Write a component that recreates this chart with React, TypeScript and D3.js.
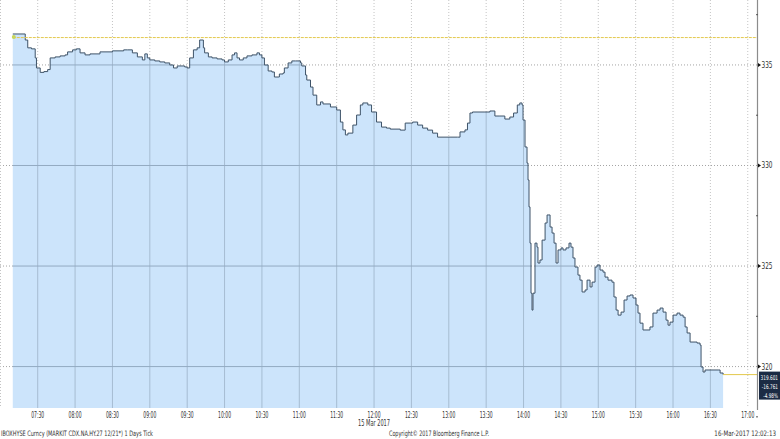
import React, {useEffect, useRef} from "react";
import * as d3 from "d3";

// tick data (time of day, price)
const times = [
    "07:10:00", "07:19:00", "07:20:00", "07:22:00", "07:25:00", "07:28:00", "07:29:00", "07:32:00", "07:35:00", "07:38:00",
    "07:40:00", "07:44:00", "07:48:00", "07:52:00", "07:54:00", "07:58:00", "08:01:00", "08:04:00", "08:08:00", "08:12:00",
    "08:20:00", "08:30:00", "08:39:00", "08:42:00", "08:46:00", "08:50:00", "08:54:00", "08:56:00", "08:58:00", "09:00:00",
    "09:04:00", "09:08:00", "09:12:00", "09:16:00", "09:19:00", "09:22:00", "09:28:00", "09:30:00", "09:32:00", "09:35:00",
    "09:38:00", "09:40:00", "09:43:00", "09:44:00", "09:47:00", "09:50:00", "09:54:00", "09:58:00", "10:00:00", "10:03:00",
    "10:06:00", "10:08:00", "10:10:00", "10:12:00", "10:15:00", "10:18:00", "10:22:00", "10:26:00", "10:28:00", "10:30:00",
    "10:32:00", "10:35:00", "10:38:00", "10:40:00", "10:43:00", "10:44:00", "10:47:00", "10:48:00", "10:51:00", "10:54:00",
    "10:57:00", "11:01:00", "11:02:00", "11:05:00", "11:06:00", "11:09:00", "11:11:00", "11:14:00", "11:17:00", "11:19:00",
    "11:25:00", "11:30:00", "11:33:00", "11:35:00", "11:37:00", "11:39:00", "11:43:00", "11:46:00", "11:49:00", "11:51:00",
    "11:55:00", "11:58:00", "12:02:00", "12:06:00", "12:10:00", "12:13:00", "12:21:00", "12:25:00", "12:29:00", "12:31:00",
    "12:35:00", "12:39:00", "12:43:00", "12:47:00", "12:51:00", "13:01:00", "13:07:00", "13:09:00", "13:13:00", "13:15:00",
    "13:17:00", "13:19:00", "13:29:00", "13:33:00", "13:37:00", "13:41:00", "13:45:00", "13:49:00", "13:52:00", "13:55:00",
    "13:57:00", "13:58:48", "13:59:36", "14:01:12", "14:02:48", "14:03:36", "14:04:24", "14:05:12", "14:06:00", "14:06:48",
    "14:07:36", "14:09:12", "14:10:48", "14:11:36", "14:13:12", "14:14:54", "14:17:18", "14:18:54", "14:19:42", "14:21:18",
    "14:22:54", "14:24:30", "14:26:06", "14:27:42", "14:30:06", "14:31:42", "14:34:06", "14:36:30", "14:38:06", "14:39:42",
    "14:41:18", "14:43:42", "14:45:18", "14:47:00", "14:49:24", "14:51:00", "14:53:24", "14:55:00", "14:57:24", "14:59:00",
    "15:01:24", "15:03:48", "15:05:24", "15:07:48", "15:11:00", "15:12:36", "15:14:18", "15:15:54", "15:18:18", "15:20:42",
    "15:23:06", "15:25:30", "15:27:54", "15:30:18", "15:31:54", "15:33:30", "15:35:54", "15:39:06", "15:41:30", "15:43:54",
    "15:47:12", "15:49:36", "15:52:00", "15:54:24", "15:56:00", "15:57:36", "16:00:00", "16:03:12", "16:05:36", "16:08:06",
    "16:09:42", "16:11:18", "16:13:42", "16:19:18", "16:21:42", "16:22:30", "16:24:06", "16:25:42", "16:36:12", "16:37:48",
    "16:40:12",
]
const prices = [
    336.54, 336.54, 336.24, 335.85, 335.80, 335.35, 334.85, 334.63, 334.67, 334.77,
    335.35, 335.40, 335.45, 335.50, 335.65, 335.75, 335.80, 335.60, 335.50, 335.55,
    335.65, 335.70, 335.75, 335.75, 335.60, 335.40, 335.25, 335.55, 335.35, 335.25,
    335.20, 335.15, 335.10, 335.00, 334.85, 334.95, 334.90, 334.85, 335.35, 335.75,
    335.85, 336.24, 335.85, 335.60, 335.40, 335.35, 335.30, 335.25, 335.15, 335.25,
    335.50, 335.60, 335.35, 335.25, 335.35, 335.45, 335.50, 335.60, 335.50, 335.35,
    335.00, 334.70, 334.65, 334.40, 334.40, 334.55, 334.60, 334.85, 335.10, 335.20,
    335.20, 335.10, 334.95, 334.50, 334.25, 333.90, 333.50, 333.01, 333.16, 333.06,
    332.91, 332.76, 332.16, 331.77, 331.52, 331.61, 332.01, 332.51, 333.01, 333.11,
    333.01, 332.66, 332.16, 331.91, 331.86, 331.81, 331.76, 332.11, 332.11, 332.16,
    332.01, 331.86, 331.76, 331.61, 331.41, 331.41, 331.41, 331.67, 331.77, 332.11,
    332.61, 332.66, 332.66, 332.71, 332.46, 332.46, 332.31, 332.41, 332.61, 333.01,
    333.11, 333.01, 332.26, 330.92, 330.12, 329.28, 327.94, 326.14, 323.65, 322.81,
    323.65, 326.14, 325.94, 325.15, 325.30, 326.29, 327.14, 327.54, 327.54, 326.94,
    326.64, 326.14, 325.15, 325.80, 325.90, 325.80, 325.90, 326.14, 325.94, 325.40,
    324.95, 324.55, 324.30, 323.71, 323.81, 324.30, 323.96, 324.20, 324.95, 325.05,
    324.80, 324.70, 324.45, 324.30, 324.20, 323.46, 322.81, 322.56, 322.71, 323.31,
    323.51, 323.56, 323.41, 323.06, 322.66, 322.16, 321.82, 321.82, 321.97, 322.66,
    322.81, 322.91, 322.71, 322.31, 322.06, 322.21, 322.56, 322.66, 322.56, 322.46,
    321.97, 321.67, 321.22, 321.17, 321.07, 319.98, 319.73, 319.83, 319.83, 319.68,
    319.601,
]
const prevClose = 336.362
const yTicks = [320, 325, 330, 335]
const yMinorTicks = [317.5, 322.5, 327.5, 332.5, 337.5]
const xTickLabels = ["07:30", "08:00", "08:30", "09:00", "09:30", "10:00", "10:30", "11:00", "11:30", "12:00",
    "12:30", "13:00", "13:30", "14:00", "14:30", "15:00", "15:30", "16:00", "16:30", "17:00"]
const dateLabel = "15 Mar 2017"
const lastLabels = ["319.601", "-16.761", "-4.98%"]
const footerLeft = "IBOXHYSE Curncy (MARKIT CDX.NA.HY.27 12/21*) 1 Days  Tick"
const footerMid = "Copyright© 2017 Bloomberg Finance L.P."
const footerRight = "16-Mar-2017 12:02:13"

const W = 780
const H = 439
const plotRight = 757
const plotBottom = 408
const FONT = "'DejaVu Sans Condensed', 'Liberation Sans', sans-serif"

const parseT = d3.timeParse("%H:%M:%S")

const App = () => {
    const svgRef = useRef(null)

    useEffect(() => {
        const svg = d3.select(svgRef.current)
        svg.selectAll("*").remove()

        const data = times.map((t, i) => ({t: parseT(t) as Date, v: prices[i]}))

        const x = d3.scaleTime()
            .domain([parseT("06:59:44") as Date, parseT("17:07:25") as Date])
            .range([0, plotRight])
        const y = d3.scaleLinear()
            .domain([317.94, 338.23])
            .range([plotBottom, 0])

        const xTicks = xTickLabels.map(s => parseT(s + ":00") as Date)

        // dotted grid (shows on the white part)
        const grid = svg.append("g")
        grid.selectAll(".vg").data(xTicks).join("line")
            .attr("x1", d => x(d)).attr("x2", d => x(d))
            .attr("y1", 0).attr("y2", plotBottom)
            .attr("stroke", "#c4c4c4").attr("stroke-width", 1).attr("stroke-dasharray", "1,2")
        grid.selectAll(".hg").data(yTicks).join("line")
            .attr("x1", 0).attr("x2", plotRight)
            .attr("y1", d => y(d)).attr("y2", d => y(d))
            .attr("stroke", "#a4a4a4").attr("stroke-width", 1).attr("stroke-dasharray", "1,2")
        grid.append("line")
            .attr("x1", 0.5).attr("x2", 0.5).attr("y1", 0).attr("y2", plotBottom)
            .attr("stroke", "#c4c4c4").attr("stroke-dasharray", "1,2")

        const area = d3.area<any>()
            .x(d => x(d.t))
            .y0(plotBottom)
            .y1(d => y(d.v))
            .curve(d3.curveStepAfter)

        svg.append("clipPath").attr("id", "areaClip")
            .append("path").datum(data).attr("d", area)

        svg.append("path").datum(data)
            .attr("d", area)
            .attr("fill", "#cce4fb")

        // solid grid under the fill
        const inner = svg.append("g").attr("clip-path", "url(#areaClip)")
        inner.selectAll(".vg").data(xTicks).join("line")
            .attr("x1", d => x(d)).attr("x2", d => x(d))
            .attr("y1", 0).attr("y2", plotBottom)
            .attr("stroke", "#a6bcd2").attr("stroke-width", 1)
        inner.selectAll(".hg").data(yTicks).join("line")
            .attr("x1", 0).attr("x2", plotRight)
            .attr("y1", d => y(d)).attr("y2", d => y(d))
            .attr("stroke", "#93aac2").attr("stroke-width", 1)

        const line = d3.line<any>()
            .x(d => x(d.t))
            .y(d => y(d.v))
            .curve(d3.curveStepAfter)

        svg.append("path").datum(data)
            .attr("d", line)
            .attr("fill", "none")
            .attr("stroke", "#3e5368")
            .attr("stroke-width", 1)

        // previous close line
        const first = data[0]
        const last = data[data.length - 1]
        svg.append("line")
            .attr("x1", x(first.t)).attr("x2", plotRight)
            .attr("y1", y(prevClose)).attr("y2", y(prevClose))
            .attr("stroke", "#e3c84c").attr("stroke-width", 1).attr("stroke-dasharray", "3,1")
        svg.append("circle")
            .attr("cx", x(first.t) + 1).attr("cy", y(prevClose) - 0.5).attr("r", 2)
            .attr("fill", "#c9d65a")
        // last price line
        svg.append("line")
            .attr("x1", x(last.t)).attr("x2", plotRight)
            .attr("y1", y(last.v)).attr("y2", y(last.v))
            .attr("stroke", "#e3c84c").attr("stroke-width", 1)

        // right axis
        const ax = svg.append("g")
        ax.append("line")
            .attr("x1", plotRight + 0.5).attr("x2", plotRight + 0.5)
            .attr("y1", 0).attr("y2", plotBottom + 2)
            .attr("stroke", "#8c8c8c").attr("stroke-width", 1.2)
        ax.selectAll(".mt").data(yMinorTicks).join("line")
            .attr("x1", plotRight - 1).attr("x2", plotRight + 1)
            .attr("y1", d => y(d)).attr("y2", d => y(d))
            .attr("stroke", "#555")
        ax.selectAll(".tk").data(yTicks).join("path")
            .attr("d", d => `M${plotRight + 1},${y(d) - 2}L${plotRight + 4},${y(d)}L${plotRight + 1},${y(d) + 2}Z`)
            .attr("fill", "#111")
        ax.selectAll(".tl").data(yTicks).join("text")
            .attr("x", plotRight + 4.5).attr("y", d => y(d) + 3)
            .attr("font-family", FONT).attr("font-size", 8).attr("fill", "#333")
            .attr("textLength", 11).attr("lengthAdjust", "spacingAndGlyphs")
            .text(d => String(d))

        // last value box
        const bx = plotRight + 2
        const by = y(last.v) - 3
        svg.append("rect")
            .attr("x", bx).attr("y", by).attr("width", W - bx).attr("height", 28)
            .attr("fill", "#1b2b44")
        svg.selectAll(".lv").data(lastLabels).join("text")
            .attr("transform", (d, i) => `translate(${W - 2},${by + 8 + i * 9}) scale(0.72,1)`)
            .attr("text-anchor", "end")
            .attr("font-family", FONT).attr("font-size", 6.5).attr("fill", "#ffffff")
            .text(d => d)

        // bottom tick labels
        svg.selectAll(".xl").data(xTicks).join("text")
            .attr("x", d => x(d)).attr("y", 418)
            .attr("text-anchor", "middle")
            .attr("font-family", FONT).attr("font-size", 8).attr("fill", "#333")
            .attr("textLength", 13).attr("lengthAdjust", "spacingAndGlyphs")
            .text((d, i) => xTickLabels[i])
        svg.append("text")
            .attr("x", x(parseT("12:00:00") as Date)).attr("y", 426)
            .attr("text-anchor", "middle")
            .attr("font-family", FONT).attr("font-size", 8).attr("fill", "#333")
            .attr("textLength", 32).attr("lengthAdjust", "spacingAndGlyphs")
            .text(dateLabel)

        // footer
        svg.append("text").attr("x", 1).attr("y", 436)
            .attr("font-family", FONT).attr("font-size", 7.5).attr("fill", "#333")
            .attr("textLength", 152).attr("lengthAdjust", "spacingAndGlyphs").text(footerLeft)
        svg.append("text").attr("x", 389).attr("y", 436)
            .attr("font-family", FONT).attr("font-size", 7.5).attr("fill", "#333")
            .attr("textLength", 100).attr("lengthAdjust", "spacingAndGlyphs").text(footerMid)
        svg.append("text")
            .attr("transform", "translate(776,436) scale(0.82,1)")
            .attr("text-anchor", "end")
            .attr("font-family", FONT).attr("font-size", 7.5).attr("fill", "#333")
            .text(footerRight)
    }, [])

    return (
        <div style={{position: "absolute", left: 0, top: 0}}>
            <svg ref={svgRef} width={W} height={H} style={{display: "block", background: "#ffffff"}}/>
        </div>
    );
};

export default App;
